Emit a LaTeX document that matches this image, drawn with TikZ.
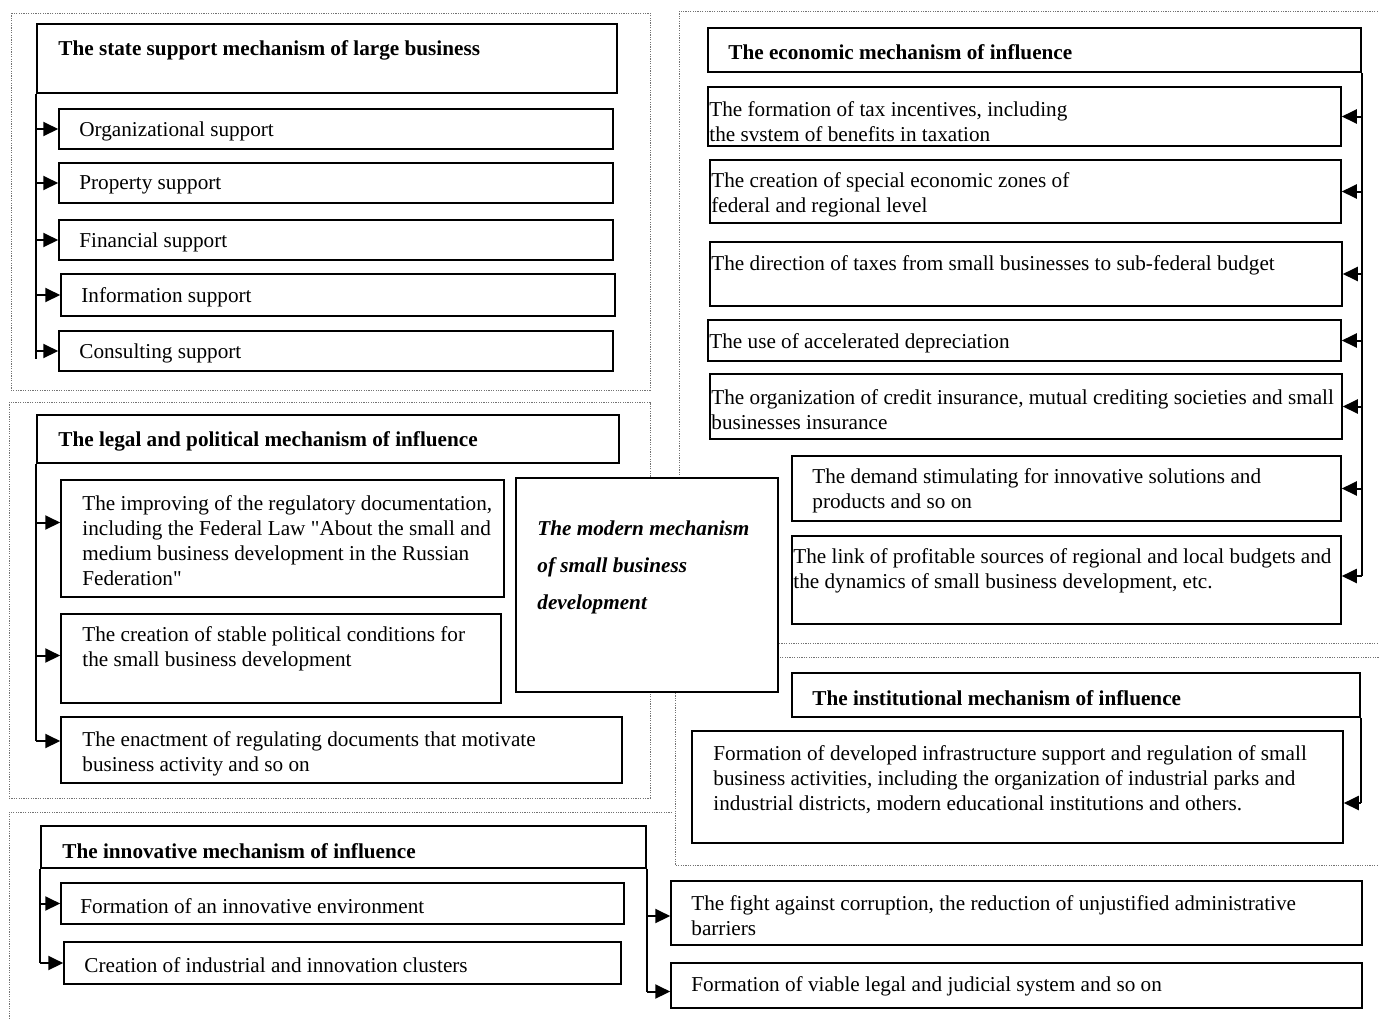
\documentclass[tikz,border=0pt]{standalone}
\usepackage{fontspec}
\setmainfont{Liberation Serif}
\usetikzlibrary{arrows.meta, positioning, fit}

\begin{document}
\begin{tikzpicture}[x=0.5pt, y=-0.5pt, font=\fontsize{10.6}{12.5}\selectfont,
   box/.style={draw, line width=0.75pt, fill=white, inner sep=0pt},
   txt/.style={anchor=west, align=left, inner sep=0pt, yshift=-1pt},
   head/.style={txt, font=\fontsize{10.6}{12.5}\selectfont\bfseries},
   zone/.style={draw=black!55, line width=0.5pt, dash pattern=on 0.6pt off 0.6pt},
   trunk/.style={line width=1pt},
   arr/.style={line width=1pt, -{Triangle[length=7.5pt, width=7pt]}}]
  \useasboundingbox (0,0) rectangle (1379,1018);
  \clip (0,0) rectangle (1379,1018);
  % dotted zones
  \draw[zone] (11,13) rectangle (650,390);
  \draw[zone] (679,11) rectangle (1390,643);
  \draw[zone] (9,402) rectangle (650,798);
  \draw[zone] (675,657) rectangle (1390,865);
  \draw[zone] (672,812) -- (9,812) -- (9,1030);

  % state support of large business
  \node[box, fit={(37,24) (617,93)}] (state) {};
  \node[head] (state-t) at (58,48) {The state support mechanism of large business};
  \node[box, fit={(59,109) (613,149)}] (org) {};
  \node[txt] (org-t) at (79,129) {Organizational support};
  \node[box, fit={(59,163) (613,203)}] (prop) {};
  \node[txt] (prop-t) at (79,183) {Property support};
  \node[box, fit={(59,220) (613,260)}] (fin) {};
  \node[txt] (fin-t) at (79,240) {Financial support};
  \node[box, fit={(61,274) (615,316)}] (info) {};
  \node[txt] (info-t) at (81,295) {Information support};
  \node[box, fit={(59,331) (613,371)}] (cons) {};
  \node[txt] (cons-t) at (79,351) {Consulting support};
  \draw[trunk] (state.south west) -- ([yshift=-4pt]state.south west |- cons.west);
  \foreach \b in {org, prop, fin, info, cons}
    \draw[arr] (state.south west |- \b.west) -- (\b.west);

  % economic mechanism
  \node[box, fit={(708,28) (1361,72)}] (econ) {};
  \node[head] (econ-t) at (728,50) {The economic mechanism of influence};
  \node[box, fit={(708,87) (1341,146)}] (e1) {};
  \node[txt] (e1-t) at (709,119.5) {The formation of tax incentives, including\\the svstem of benefits in taxation};
  \node[box, fit={(710,160) (1341,223)}] (e2) {};
  \node[txt] (e2-t) at (711,192.5) {The creation of special economic zones of\\federal and regional level};
  \node[box, fit={(710,242) (1342,306)}] (e3) {};
  \node[txt] (e3-t) at (711,263) {The direction of taxes from small businesses to sub-federal budget};
  \node[box, fit={(708,320) (1341,361)}] (e4) {};
  \node[txt] (e4-t) at (709,341) {The use of accelerated depreciation};
  \node[box, fit={(710,374) (1342,439)}] (e5) {};
  \node[txt] (e5-t) at (711,407.5) {The organization of credit insurance, mutual crediting societies and small\\businesses insurance};
  \node[box, fit={(792,456) (1341,521)}] (e6) {};
  \node[txt] (e6-t) at (812,488.5) {The demand stimulating for innovative solutions and\\products and so on};
  \node[box, fit={(792,536) (1341,624)}] (e7) {};
  \node[txt] (e7-t) at (793,568.5) {The link of profitable sources of regional and local budgets and\\the dynamics of small business development, etc.};
  \draw[trunk] (econ.south east) -- ([yshift=2pt]econ.south east |- e7.east);
  \foreach \b in {e1, e2, e3, e4, e5, e6}
    \draw[arr] (econ.south east |- \b.east) -- (\b.east);
  \draw[arr] ([yshift=2pt]econ.south east |- e7.east) -- ([yshift=2pt]e7.east);

  % legal and political mechanism
  \node[box, fit={(37,415) (619,463)}] (legal) {};
  \node[head] (legal-t) at (58,439) {The legal and political mechanism of influence};
  \node[box, fit={(61,480) (504,597)}] (l1) {};
  \node[txt] (l1-t) at (82,539) {The improving of the regulatory documentation,\\including the Federal Law \textquotedbl About the small and\\medium business development in the Russian\\Federation\textquotedbl};
  \node[box, fit={(61,614) (501,703)}] (l2) {};
  \node[txt] (l2-t) at (82,646.5) {The creation of stable political conditions for\\the small business development};
  \node[box, fit={(61,717) (622,783)}] (l3) {};
  \node[txt] (l3-t) at (82,751.5) {The enactment of regulating documents that motivate\\business activity and so on};
  \draw[trunk] (legal.south west) -- ([yshift=4.5pt]legal.south west |- l3.west);
  \draw[arr] ([yshift=8pt]legal.south west |- l1.west) -- ([yshift=8pt]l1.west);
  \draw[arr] ([yshift=1.5pt]legal.south west |- l2.west) -- ([yshift=1.5pt]l2.west);
  \draw[arr] ([yshift=4.5pt]legal.south west |- l3.west) -- ([yshift=4.5pt]l3.west);

  % the modern mechanism
  \node[box, fit={(516,478) (778,692)}] (core) {};
  \node[txt, font=\fontsize{10.6}{18.5}\selectfont\bfseries\itshape] (core-t) at (537,565)
       {The modern mechanism\\of small business\\development};

  % institutional mechanism
  \node[box, fit={(792,673) (1360,717)}] (inst) {};
  \node[head] (inst-t) at (812,696) {The institutional mechanism of influence};
  \node[box, fit={(692,731) (1343,843)}] (n1) {};
  \node[txt] (n1-t) at (713,778) {Formation of developed infrastructure support and regulation of small\\business activities, including the organization of industrial parks and\\industrial districts, modern educational institutions and others.};
  \draw[trunk] (inst.south east) -- ([yshift=-8pt]inst.south east |- n1.east);
  \draw[arr] ([yshift=-8pt]inst.south east |- n1.east) -- ([yshift=-8pt]n1.east);

  % innovative mechanism
  \node[box, fit={(41,826) (646,868)}] (innov) {};
  \node[head] (innov-t) at (62,849) {The innovative mechanism of influence};
  \node[box, fit={(61,883) (624,924)}] (i1) {};
  \node[txt] (i1-t) at (80,904) {Formation of an innovative environment};
  \node[box, fit={(64,942) (621,984)}] (i2) {};
  \node[txt] (i2-t) at (84,963) {Creation of industrial and innovation clusters};
  \node[box, fit={(671,881) (1362,945)}] (i3) {};
  \node[txt] (i3-t) at (691,913.5) {The fight against corruption, the reduction of unjustified administrative\\barriers};
  \node[box, fit={(671,963) (1362,1008)}] (i4) {};
  \node[txt] (i4-t) at (691,984) {Formation of viable legal and judicial system and so on};
  \draw[trunk] (innov.south west) -- (innov.south west |- i2.west);
  \draw[trunk] (innov.south east) -- ([yshift=-3pt]innov.south east |- i4.west);
  \foreach \b in {i1, i2}
    \draw[arr] (innov.south west |- \b.west) -- (\b.west);
  \draw[arr] ([yshift=-1.5pt]innov.south east |- i3.west) -- ([yshift=-1.5pt]i3.west);
  \draw[arr] ([yshift=-3pt]innov.south east |- i4.west) -- ([yshift=-3pt]i4.west);
\end{tikzpicture}
\end{document}
